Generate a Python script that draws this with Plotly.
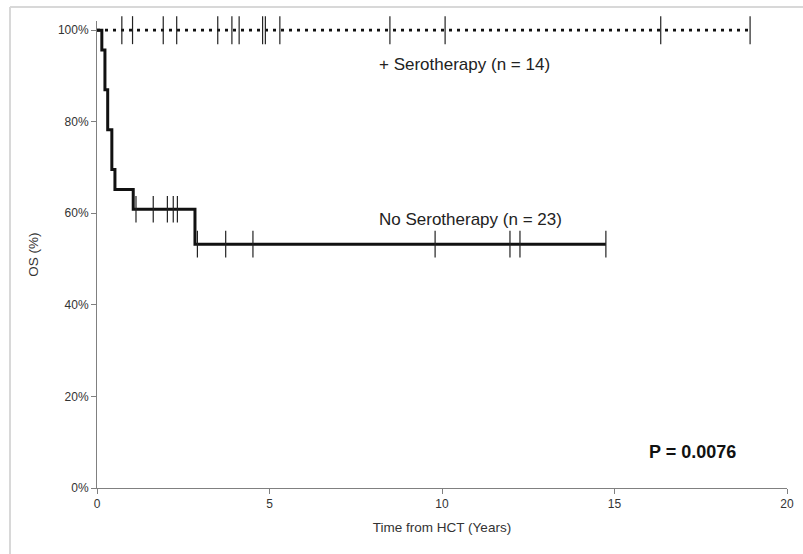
import plotly.graph_objects as go

# ---- data ----
no_sero_times = [0, 0.14, 0.23, 0.31, 0.43, 0.52, 1.05, 2.84, 14.75]
no_sero_surv = [100, 95.65, 86.96, 78.26, 69.57, 65.22, 60.87, 53.26, 53.26]
no_sero_censor_t = [1.13, 1.63, 2.04, 2.21, 2.33, 2.91, 3.73, 4.52, 9.80, 11.97, 12.26, 14.75]

sero_times = [0, 18.93]
sero_surv = [100, 100]
sero_censor_t = [0.72, 1.03, 1.92, 2.31, 3.50, 3.91, 4.12, 4.80, 4.88, 5.30,
                 8.49, 10.09, 16.34, 18.93]

x_ticks = [0, 5, 10, 15, 20]
y_ticks = [0, 20, 40, 60, 80, 100]

def step_value(times, surv, t):
    v = surv[0]
    for ti, si in zip(times, surv):
        if ti <= t:
            v = si
    return v

fig = go.Figure()

# serotherapy (dotted)
fig.add_trace(go.Scatter(
    x=sero_times, y=sero_surv, mode="lines", line_shape="hv",
    line=dict(color="#111111", width=2.6, dash="3px,5px"),
    showlegend=False, hoverinfo="skip"))
fig.add_trace(go.Scatter(
    x=sero_censor_t, y=[step_value(sero_times, sero_surv, t) for t in sero_censor_t],
    mode="markers", cliponaxis=False,
    marker=dict(symbol="line-ns", size=20, line=dict(color="#222222", width=1.2)),
    showlegend=False, hoverinfo="skip"))

# no serotherapy (solid)
fig.add_trace(go.Scatter(
    x=no_sero_times, y=no_sero_surv, mode="lines", line_shape="hv",
    line=dict(color="#111111", width=3),
    showlegend=False, hoverinfo="skip"))
fig.add_trace(go.Scatter(
    x=no_sero_censor_t, y=[step_value(no_sero_times, no_sero_surv, t) for t in no_sero_censor_t],
    mode="markers", cliponaxis=False,
    marker=dict(symbol="line-ns", size=19, line=dict(color="#222222", width=1.2)),
    showlegend=False, hoverinfo="skip"))

font_family = "Liberation Sans, Arial, sans-serif"
txt = "#333333"

fig.update_layout(
    template="none",
    width=803, height=554,
    margin=dict(l=97, r=16, t=21, b=66),
    paper_bgcolor="white", plot_bgcolor="white",
    font=dict(family=font_family, size=12, color=txt),
    xaxis=dict(
        range=[0, 20], tickvals=x_ticks, ticktext=[str(v) for v in x_ticks],
        showgrid=False, zeroline=False, showline=True, linecolor="#808080", linewidth=1,
        ticks="outside", ticklen=5, tickcolor="#808080", tickfont=dict(size=12, color=txt),
        title=dict(text="Time from HCT (Years)", font=dict(size=13.5, color=txt), standoff=12),
    ),
    yaxis=dict(
        range=[0, 102], tickvals=y_ticks, ticktext=[f"{v}%" for v in y_ticks],
        showgrid=False, zeroline=False, showline=True, linecolor="#808080", linewidth=1,
        ticks="outside", ticklen=5, tickcolor="#808080", tickfont=dict(size=12, color=txt),
        title=dict(text="OS (%)", font=dict(size=13.5, color=txt), standoff=16),
    ),
    annotations=[
        dict(x=464, y=64, text="+ Serotherapy (n = 14)",
             font=dict(size=17, color="#222222")),
        dict(x=470, y=219, text="No Serotherapy (n = 23)",
             font=dict(size=17, color="#222222")),
        dict(x=692, y=452, text="<b>P = 0.0076</b>",
             font=dict(size=18, color="#111111")),
    ],
)

# convert pixel positions of annotations to paper coordinates
pl, pr, pt, pb = 97, 803 - 16, 21, 554 - 66
for a in fig.layout.annotations:
    px, py = a.x, a.y
    a.update(xref="paper", yref="paper", showarrow=False,
             xanchor="center", yanchor="middle",
             x=(px - pl) / (pr - pl), y=(pb - py) / (pb - pt))

# light gray frame at top and left of the picture
fig.add_shape(type="line", xref="paper", yref="paper",
              x0=(10 - pl) / (pr - pl), x1=(803 - pl) / (pr - pl),
              y0=(pb - 7) / (pb - pt), y1=(pb - 7) / (pb - pt),
              line=dict(color="#d8d8d8", width=2))
fig.add_shape(type="line", xref="paper", yref="paper",
              x0=(10 - pl) / (pr - pl), x1=(10 - pl) / (pr - pl),
              y0=(pb - 7) / (pb - pt), y1=(pb - 554) / (pb - pt),
              line=dict(color="#d8d8d8", width=2))

fig.write_html("out.html", config={"displayModeBar": False},
               post_script="document.body.style.margin='0';")
